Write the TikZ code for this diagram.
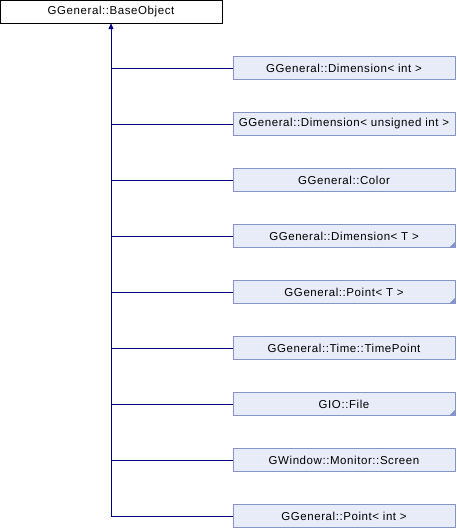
\documentclass[tikz,border=0pt]{standalone}
\usepackage{fontspec}
\setmainfont{Liberation Sans}[LetterSpace=5]
\usetikzlibrary{arrows.meta}

\definecolor{boxfill}{RGB}{232,236,248}
\definecolor{boxline}{RGB}{132,150,200}
\definecolor{edgeline}{RGB}{0,0,128}

\tikzset{
  baseclass/.style={draw=black, fill=white, rectangle, minimum width=222pt, minimum height=23pt, inner sep=0pt, font=\fontsize{11.5}{13}\selectfont},
  subclass/.style={draw=boxline, fill=boxfill, rectangle, minimum width=222pt, minimum height=23pt, inner sep=0pt, font=\fontsize{11.5}{13}\selectfont},
  inherit/.style={draw=edgeline, line width=0.9pt},
  more/.style={fill=boxline}
}

\begin{document}
\begin{tikzpicture}[x=1pt, y=-1pt]
\useasboundingbox (0,0) rectangle (456,528);

% base class
\node[baseclass] (baseobject) at (111,11.5) {GGeneral::BaseObject};

% derived classes
\node[subclass] (dimint) at (344,68) {GGeneral::Dimension< int >};
\node[subclass] (dimuint) at (344,124) {GGeneral::Dimension< unsigned int >};
\node[subclass] (color) at (344,180) {GGeneral::Color};
\node[subclass] (dimt) at (344,236) {GGeneral::Dimension< T >};
\node[subclass] (pointt) at (344,292) {GGeneral::Point< T >};
\node[subclass] (timepoint) at (344,348) {GGeneral::Time::TimePoint};
\node[subclass] (file) at (344,404) {GIO::File};
\node[subclass] (screen) at (344,460) {GWindow::Monitor::Screen};
\node[subclass] (pointint) at (344,516) {GGeneral::Point< int >};

% corner marks: classes with further subclasses
\fill[more] (dimt.south east) -- ++(-6,0) -- ++(6,-6) -- cycle;
\fill[more] (pointt.south east) -- ++(-6,0) -- ++(6,-6) -- cycle;
\fill[more] (file.south east) -- ++(-6,0) -- ++(6,-6) -- cycle;

% inheritance
\draw[inherit, -{Triangle[width=5pt, length=6pt]}] (baseobject.south |- pointint.west) -- (baseobject.south);
\draw[inherit] (dimint.west) -- (dimint.west -| baseobject.south);
\draw[inherit] (dimuint.west) -- (dimuint.west -| baseobject.south);
\draw[inherit] (color.west) -- (color.west -| baseobject.south);
\draw[inherit] (dimt.west) -- (dimt.west -| baseobject.south);
\draw[inherit] (pointt.west) -- (pointt.west -| baseobject.south);
\draw[inherit] (timepoint.west) -- (timepoint.west -| baseobject.south);
\draw[inherit] (file.west) -- (file.west -| baseobject.south);
\draw[inherit] (screen.west) -- (screen.west -| baseobject.south);
\draw[inherit] (pointint.west) -- (pointint.west -| baseobject.south);
\end{tikzpicture}
\end{document}
